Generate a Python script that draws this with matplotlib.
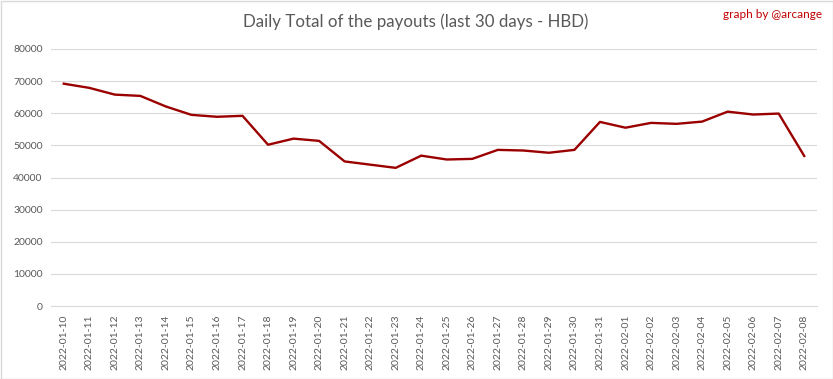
import matplotlib
matplotlib.use('agg')
import matplotlib.pyplot as plt
from matplotlib.patches import Rectangle

dates = ["2022-01-10", "2022-01-11", "2022-01-12", "2022-01-13", "2022-01-14",
         "2022-01-15", "2022-01-16", "2022-01-17", "2022-01-18", "2022-01-19",
         "2022-01-20", "2022-01-21", "2022-01-22", "2022-01-23", "2022-01-24",
         "2022-01-25", "2022-01-26", "2022-01-27", "2022-01-28", "2022-01-29",
         "2022-01-30", "2022-01-31", "2022-02-01", "2022-02-02", "2022-02-03",
         "2022-02-04", "2022-02-05", "2022-02-06", "2022-02-07", "2022-02-08"]
payouts = [69200, 67900, 65800, 65400, 62100, 59500, 58900, 59200, 50200, 52100,
           51400, 45000, 44000, 43000, 46800, 45600, 45800, 48600, 48400, 47700,
           48600, 57300, 55500, 57000, 56700, 57400, 60500, 59600, 59900, 46700]
yticks = [0, 10000, 20000, 30000, 40000, 50000, 60000, 70000, 80000]

textcolor = "#595959"
gridcolor = "#d9d9d9"
plt.rcParams['font.family'] = ['Lato', 'DejaVu Sans']

fig = plt.figure(figsize=(8.33, 3.79), dpi=100)
ax = fig.add_axes([51/833, 1 - 306/379, (817 - 51)/833, (306 - 49)/379])

x = list(range(len(dates)))
ax.plot(x, payouts, color="#9b0000", linewidth=1.7, solid_joinstyle='round')

ax.set_xlim(-0.5, len(dates) - 0.5)
ax.set_ylim(0, 80000)
ax.set_yticks(yticks)
ax.set_yticklabels([str(v) for v in yticks], fontsize=7.5, color=textcolor)
ax.set_xticks(x)
ax.set_xticklabels(dates, rotation=90, fontsize=7.5, color=textcolor)
ax.tick_params(length=0, pad=6)
ax.grid(axis='y', color=gridcolor, linewidth=0.8)
ax.set_axisbelow(True)
for side in ["left", "right", "top"]:
	ax.spines[side].set_visible(False)
ax.spines["bottom"].set_color(gridcolor)
ax.spines["bottom"].set_linewidth(0.8)

fig.text(416/833, 1 - 22/379, "Daily Total of the payouts (last 30 days - HBD)",
         ha='center', va='center', fontsize=12.2, color=textcolor)
fig.text(822/833, 1 - 15/379, "graph by @arcange", ha='right', va='center',
         fontsize=8.5, color="#c00000")

fig.patches.append(Rectangle((0.5/833, 0.5/379), 1 - 1/833, 1 - 1/379,
                             transform=fig.transFigure, fill=False,
                             edgecolor=gridcolor, linewidth=1))

plt.savefig("out.png", dpi=100)
